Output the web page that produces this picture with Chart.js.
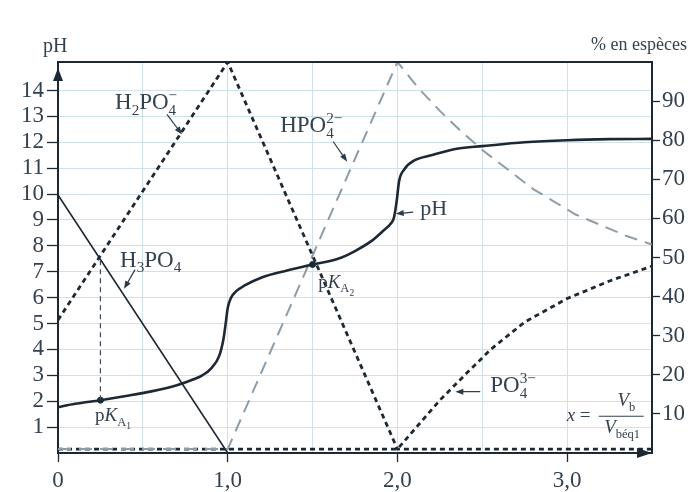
<!DOCTYPE html>
<html><head><meta charset="utf-8">
<script src="https://cdn.jsdelivr.net/npm/chart.js@4.4.1/dist/chart.umd.min.js"></script>
<style>html,body{margin:0;padding:0;background:#fff;}#wrap{width:688px;height:492px;}</style>
</head><body><div id="wrap"><canvas id="c" width="688" height="492"></canvas></div>
<script>
// ---------- data ----------
const xGridValues = [0, 0.5, 1, 1.5, 2, 2.5, 3, 3.5];
const xLabelValues = [0, 1, 2, 3];
const xLabelTexts = ['0', '1,0', '2,0', '3,0'];
const phTickValues = [1,2,3,4,5,6,7,8,9,10,11,12,13,14];
const pctTickValues = [10,20,30,40,50,60,70,80,90];

const phX = [0,0.1,0.25,0.4,0.55,0.7,0.8,0.85,0.9,0.95,0.975,0.99,1.0,1.02,1.05,1.1,1.2,1.35,1.5,1.65,1.75,1.85,1.92,1.96,1.98,1.995,2.01,2.04,2.1,2.2,2.35,2.5,2.75,3.0,3.25,3.5];
const phY = [1.77,1.9,2.04,2.2,2.38,2.62,2.85,3.0,3.25,3.75,4.4,5.1,5.6,6.0,6.25,6.47,6.78,7.05,7.28,7.5,7.8,8.2,8.6,8.85,9.1,9.7,10.5,10.95,11.3,11.5,11.75,11.85,12.0,12.08,12.12,12.13];

const h3po4X = [0, 1, 3.5];
const h3po4Y = [66, 0, 0];
const h2po4X = [0, 1, 2, 3.5];
const h2po4Y = [34, 100, 1, 1];
const hpo4X = [0, 1, 2, 2.12, 2.25, 2.37, 2.5, 2.65, 2.8, 3.05, 3.35, 3.5];
const hpo4Y = [1, 1, 100, 93.5, 87.5, 82.5, 77.5, 72.5, 67.5, 61, 55.5, 53.3];
const po4X = [0, 2, 2.14, 2.25, 2.41, 2.55, 2.75, 3.0, 3.25, 3.5];
const po4Y = [1, 1, 8, 13.5, 20.5, 26.5, 33.5, 39.5, 44, 47.8];

const pkaX = [0.25, 1.5];
const pkaPH = [2.04, 7.28];
const pka1CrossPct = 49.5;

// ---------- styles ----------
const SERIF = "'Liberation Serif','DejaVu Serif',serif";
const TXT = '#34414e';
const LINE = '#1d2833';
const GRID = '#cfe1eb';
const GREY = '#8e9ca7';

const pts = (xs, ys) => xs.map((v, i) => ({x: v, y: ys[i]}));

// annotation layout (data coordinates: x, pH)
const labels = [
  {x:0.336, y:13.27, size:23, parts:[{t:'H'},{sub:'2'},{t:'PO'},{sub:'4', sup:'\u2212'}]},
  {x:1.309, y:12.38, size:23, parts:[{t:'HPO'},{sub:'4', sup:'2\u2212'}]},
  {x:0.366, y:7.2, size:23, parts:[{t:'H'},{sub:'3'},{t:'PO'},{sub:'4'}]},
  {x:2.134, y:9.2, size:22, parts:[{t:'pH'}]},
  {x:0.218, y:1.23, size:19, parts:[{t:'p'},{t:'K',i:true},{sub:'A'},{sub2:'1'}]},
  {x:1.533, y:6.39, size:19, parts:[{t:'p'},{t:'K',i:true},{sub:'A'},{sub2:'2'}]},
  {x:2.547, y:2.34, size:23, parts:[{t:'PO'},{sub:'4', sup:'3\u2212'}]},
  {x:2.997, y:1.23, size:19, parts:[{t:'x',i:true},{t:' ='}]},
  {x:3.349, y:1.81, size:19, center:true, parts:[{t:'V',i:true},{sub:'b'}]},
  {x:3.324, y:0.76, size:19, center:true, parts:[{t:'V',i:true},{sub:'b\u00e9q1'}]}
];
const fractionBar = {x0:3.186, x1:3.451, y:1.42};
const arrows = [
  [0.642,13.08, 0.731,12.3],
  [1.621,12.03, 1.704,11.25],
  [0.454,7.08, 0.389,6.34],
  [2.093,9.30, 1.99,9.24],
  [2.488,2.37, 2.341,2.37]
];

function drawParts(ctx, x, y, parts, size, measureOnly) {
  let cx = x;
  for (const p of parts) {
    if (p.t !== undefined) {
      ctx.font = (p.i ? 'italic ' : '') + size + 'px ' + SERIF;
      if (!measureOnly) ctx.fillText(p.t, cx, y);
      cx += ctx.measureText(p.t).width;
    } else if (p.sub2 !== undefined) {
      ctx.font = (size * 0.5) + 'px ' + SERIF;
      if (!measureOnly) ctx.fillText(p.sub2, cx, y + size * 0.42);
      cx += ctx.measureText(p.sub2).width;
    } else {
      const s = size * 0.66;
      ctx.font = s + 'px ' + SERIF;
      let w = 0;
      if (p.sub !== undefined) { if (!measureOnly) ctx.fillText(p.sub, cx, y + size * 0.24); w = Math.max(w, ctx.measureText(p.sub).width); }
      if (p.sup !== undefined) { if (!measureOnly) ctx.fillText(p.sup, cx, y - size * 0.4); w = Math.max(w, ctx.measureText(p.sup).width); }
      cx += w;
    }
  }
  return cx - x;
}

const decor = {
  id: 'decor',
  afterDatasetsDraw(chart) {
    const {ctx, chartArea: a, scales} = chart;
    const X = scales.x, Y = scales.y, Y2 = scales.y2;
    ctx.save();
    // top border
    ctx.strokeStyle = LINE; ctx.lineWidth = 2;
    ctx.beginPath(); ctx.moveTo(a.left, a.top); ctx.lineTo(a.right, a.top); ctx.stroke();
    // pKa1 dashed vertical
    ctx.lineWidth = 1.2; ctx.setLineDash([5,4]); ctx.strokeStyle = '#3c4a57';
    const px = X.getPixelForValue(pkaX[0]);
    ctx.beginPath(); ctx.moveTo(px, Y.getPixelForValue(pkaPH[0])); ctx.lineTo(px, Y2.getPixelForValue(pka1CrossPct)); ctx.stroke();
    ctx.setLineDash([]);
    // axis arrows
    ctx.fillStyle = LINE;
    ctx.beginPath(); ctx.moveTo(a.left, a.top + 6); ctx.lineTo(a.left - 5, a.top + 19); ctx.lineTo(a.left + 5, a.top + 19); ctx.closePath(); ctx.fill();
    ctx.beginPath(); ctx.moveTo(a.right, a.bottom); ctx.lineTo(a.right - 15, a.bottom - 5); ctx.lineTo(a.right - 15, a.bottom + 5); ctx.closePath(); ctx.fill();
    // arrows
    ctx.strokeStyle = '#2c3946'; ctx.fillStyle = '#2c3946'; ctx.lineWidth = 1.2;
    for (const [x0,y0,x1,y1] of arrows) {
      const ax = X.getPixelForValue(x0), ay = Y.getPixelForValue(y0);
      const bx = X.getPixelForValue(x1), by = Y.getPixelForValue(y1);
      const ang = Math.atan2(by - ay, bx - ax);
      ctx.beginPath(); ctx.moveTo(ax, ay); ctx.lineTo(bx - 5*Math.cos(ang), by - 5*Math.sin(ang)); ctx.stroke();
      ctx.beginPath(); ctx.moveTo(bx, by);
      ctx.lineTo(bx - 8*Math.cos(ang) + 3*Math.sin(ang), by - 8*Math.sin(ang) - 3*Math.cos(ang));
      ctx.lineTo(bx - 8*Math.cos(ang) - 3*Math.sin(ang), by - 8*Math.sin(ang) + 3*Math.cos(ang));
      ctx.closePath(); ctx.fill();
    }
    // labels
    ctx.fillStyle = TXT; ctx.textBaseline = 'alphabetic'; ctx.textAlign = 'left';
    for (const l of labels) {
      let lx = X.getPixelForValue(l.x);
      const ly = Y.getPixelForValue(l.y);
      if (l.center) lx -= drawParts(ctx, 0, 0, l.parts, l.size, true) / 2;
      drawParts(ctx, lx, ly, l.parts, l.size, false);
    }
    // fraction bar
    ctx.strokeStyle = TXT; ctx.lineWidth = 1.2;
    const fy = Y.getPixelForValue(fractionBar.y);
    ctx.beginPath(); ctx.moveTo(X.getPixelForValue(fractionBar.x0), fy); ctx.lineTo(X.getPixelForValue(fractionBar.x1), fy); ctx.stroke();
    // axis titles
    ctx.font = '20px ' + SERIF; ctx.fillText('pH', 43, 52);
    ctx.font = '18px ' + SERIF; ctx.textAlign = 'right'; ctx.fillText('% en esp\u00e8ces', 687, 50);
    ctx.restore();
  }
};

const tickFont = {family: SERIF, size: 23};

new Chart(document.getElementById('c'), {
  type: 'line',
  data: {
    datasets: [
      {label:'pH', data: pts(phX, phY), yAxisID:'y', borderColor: LINE, borderWidth: 2.6, pointRadius: 0, cubicInterpolationMode: 'monotone', fill:false},
      {label:'H3PO4', data: pts(h3po4X, h3po4Y), yAxisID:'y2', borderColor: LINE, borderWidth: 1.6, pointRadius: 0, tension: 0, fill:false},
      {label:'H2PO4-', data: pts(h2po4X, h2po4Y), yAxisID:'y2', borderColor: LINE, borderWidth: 2.8, borderDash:[5,4], pointRadius: 0, tension: 0, fill:false},
      {label:'HPO4 2-', data: pts(hpo4X, hpo4Y), yAxisID:'y2', borderColor: GREY, borderWidth: 2, borderDash:[13,8], pointRadius: 0, tension: 0, fill:false},
      {label:'PO4 3-', data: pts(po4X, po4Y), yAxisID:'y2', borderColor: LINE, borderWidth: 2.8, borderDash:[5,4], pointRadius: 0, tension: 0, fill:false},
      {label:'pKa', data: pts(pkaX, pkaPH), yAxisID:'y', showLine:false, pointRadius: 3, pointBackgroundColor: LINE, pointBorderColor: LINE}
    ]
  },
  options: {
    responsive: false, animation: false, devicePixelRatio: 1,
    layout: {padding: {top: 62, left: 0, right: 0, bottom: 0}},
    plugins: {legend: {display: false}, tooltip: {enabled: false}},
    scales: {
      x: {
        type: 'linear', min: 0, max: 3.5,
        afterBuildTicks: s => { s.ticks = xGridValues.map(v => ({value: v})); },
        afterFit: s => { s.height = 39; },
        ticks: {autoSkip: false, maxRotation: 0, padding: 5, color: TXT, font: tickFont,
          callback: v => { const i = xLabelValues.indexOf(v); return i >= 0 ? xLabelTexts[i] : ''; }},
        grid: {color: c => (c.tick && (c.tick.value === 0 || c.tick.value === 3.5)) ? 'rgba(0,0,0,0)' : GRID,
               tickLength: 9, tickWidth: 1.3,
               tickColor: c => (c.tick && xLabelValues.includes(c.tick.value)) ? LINE : 'rgba(0,0,0,0)'},
        border: {color: LINE, width: 2}
      },
      y: {
        position: 'left', min: 0, max: 15.1,
        afterBuildTicks: s => { s.ticks = phTickValues.map(v => ({value: v})); },
        afterFit: s => { s.width = 58; },
        ticks: {autoSkip: false, padding: 3, color: TXT, font: tickFont},
        grid: {color: GRID, tickLength: 11, tickColor: LINE, tickWidth: 1.3},
        border: {color: LINE, width: 2}
      },
      y2: {
        position: 'right', min: 0, max: 100,
        afterBuildTicks: s => { s.ticks = pctTickValues.map(v => ({value: v})); },
        afterFit: s => { s.width = 36; },
        ticks: {autoSkip: false, padding: 2, color: TXT, font: tickFont},
        grid: {drawOnChartArea: false, tickLength: 8, tickColor: LINE, tickWidth: 1.3},
        border: {color: LINE, width: 2}
      }
    }
  },
  plugins: [decor]
});
</script></body></html>
